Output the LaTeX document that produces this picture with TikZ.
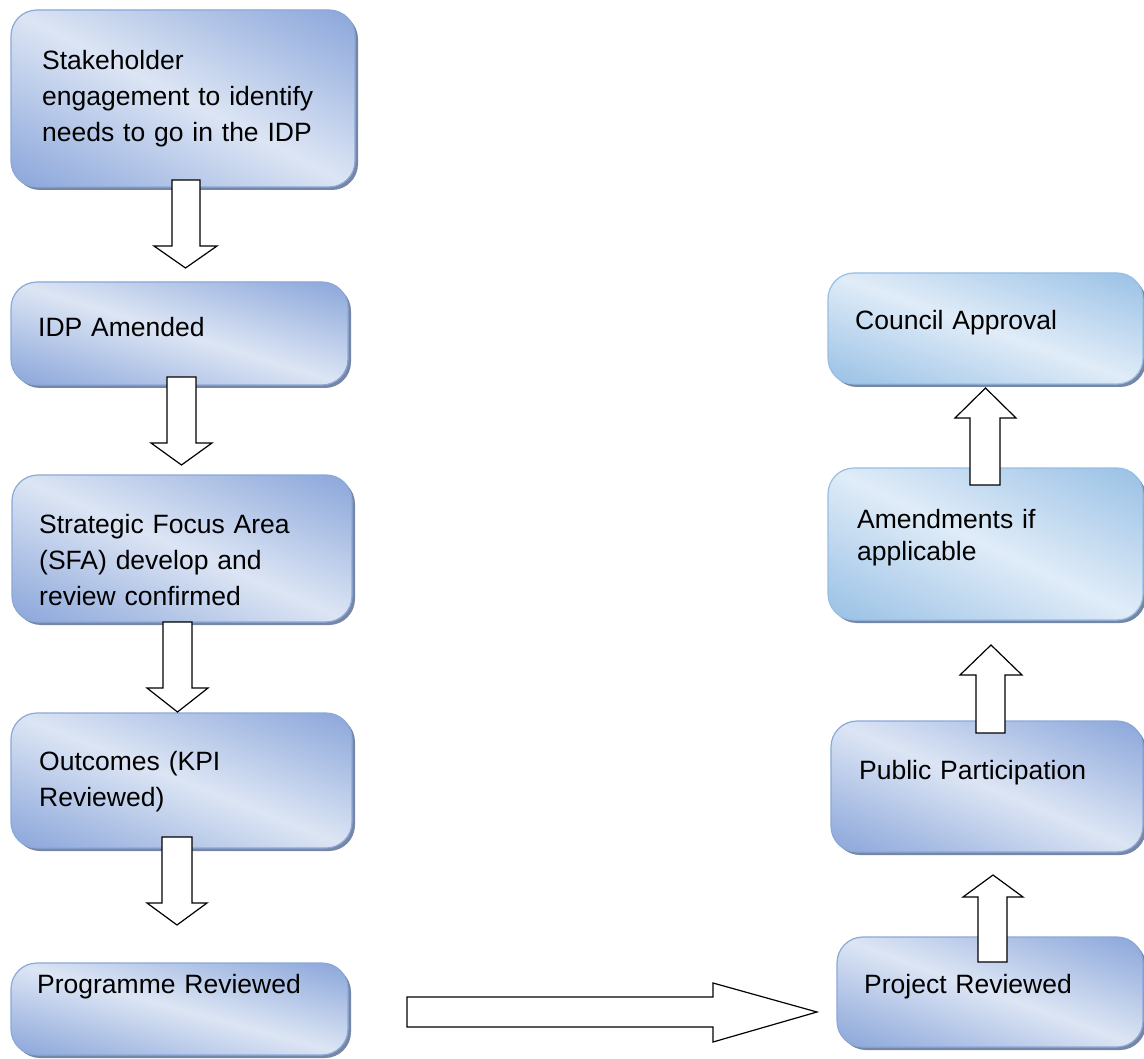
\documentclass[tikz,border=0pt]{standalone}
\usepackage{fontspec}
\setmainfont{Liberation Sans}
\usetikzlibrary{calc}
\begin{document}
\definecolor{deepA}{RGB}{141,168,219}
\definecolor{paleA}{RGB}{220,229,244}
\definecolor{edgeA}{RGB}{140,168,215}
\definecolor{deepB}{RGB}{155,194,230}
\definecolor{paleB}{RGB}{224,236,248}
\definecolor{edgeB}{RGB}{152,190,228}
\definecolor{shade}{RGB}{118,134,166}
% rounded box with a diagonal light band from the top-left to the bottom-right corner
% #1 name, #2 x, #3 y (top left), #4 width, #5 height, #6 colour set (A or B)
\newcommand\flowbox[6]{%
  \pgfmathsetmacro\bandang{-atan(#5/#4)}%
  \pgfmathsetmacro\bandhalf{96*(#4/100)*(#5/100)/veclen(#4/100,#5/100)}%
  \node[box, draw=edge#6, fill=deep#6, minimum width=#4pt, minimum height=#5pt,
    path picture={\shade[transform canvas={rotate around={\bandang:(path picture bounding box.center)}},
      top color=deep#6, bottom color=deep#6, middle color=pale#6]
      ($(path picture bounding box.center)+(-320pt,-\bandhalf pt)$) rectangle
      ($(path picture bounding box.center)+(320pt,\bandhalf pt)$);}] (#1) at (#2,#3) {};}
\begin{tikzpicture}[x=1pt,y=-1pt,
  box/.style={rounded corners=26pt, line width=1.2pt, anchor=north west,
    inner sep=0pt, outer sep=0pt,
    preaction={fill=shade, transform canvas={shift={(3pt,-3pt)}}}},
  label/.style={anchor=base west, inner sep=0pt, text width=320pt, align=left,
    font=\fontsize{26.5}{36}\selectfont},
  blockarrow/.style={draw=black, fill=white, line width=1.2pt, line join=miter}]
\useasboundingbox (0,0) rectangle (1144,1059);

% left column
\flowbox{stake}{11}{10}{344}{177}{A}
\flowbox{idp}{11}{282}{337}{103}{A}
\flowbox{sfa}{12}{475}{340}{147}{A}
\flowbox{outc}{11}{713}{341}{135}{A}
\flowbox{prog}{11}{963}{337}{92}{A}

% right column
\flowbox{council}{828}{273}{315}{111}{B}
\flowbox{amend}{828}{468}{315}{152}{B}
\flowbox{public}{831}{721}{312}{131}{A}
\flowbox{project}{837}{937}{306}{110}{A}

% texts
\node[label] (tstake) at (42,70) {Stakeholder\\engagement to identify\\needs to go in the IDP};
\node[label] (tidp) at (38,337) {IDP Amended};
\node[label] (tsfa) at (39,533) {Strategic Focus Area\\(SFA) develop and\\review confirmed};
\node[label] (toutc) at (39,770) {Outcomes (KPI\\Reviewed)};
\node[label] (tprog) at (37,993) {Programme Reviewed};
\node[label] (tcouncil) at (855,330) {Council Approval};
\node[label, font=\fontsize{26.5}{32}\selectfont] (tamend) at (857,528) {Amendments if\\applicable};
\node[label] (tpublic) at (859,779) {Public Participation};
\node[label] (tproject) at (864,993) {Project Reviewed};

% downward block arrows
\draw[blockarrow] (172,180) -- (200,180) -- (200,246) -- (217,246) -- (185.5,268)
  -- (154,246) -- (172,246) -- cycle;
\draw[blockarrow] (167,377) -- (196,377) -- (196,443) -- (212,443) -- (181.5,465)
  -- (151,443) -- (167,443) -- cycle;
\draw[blockarrow] (163,622) -- (192,622) -- (192,688) -- (208,688) -- (177.5,712)
  -- (147,688) -- (163,688) -- cycle;
\draw[blockarrow] (162,837) -- (192,837) -- (192,903) -- (207,903) -- (177,925)
  -- (147,903) -- (162,903) -- cycle;

% upward block arrows
\draw[blockarrow] (970,485) -- (1000,485) -- (1000,418) -- (1016,418) -- (985.5,388)
  -- (955,418) -- (970,418) -- cycle;
\draw[blockarrow] (976,733) -- (1005,733) -- (1005,675) -- (1022,675) -- (991,645)
  -- (960,675) -- (976,675) -- cycle;
\draw[blockarrow] (978,962) -- (1007,962) -- (1007,897) -- (1023,897) -- (993,875)
  -- (963,897) -- (978,897) -- cycle;

% horizontal block arrow
\draw[blockarrow] (407,997) -- (713,997) -- (713,983) -- (817,1012) -- (713,1042)
  -- (713,1027) -- (407,1027) -- cycle;
\end{tikzpicture}
\end{document}
